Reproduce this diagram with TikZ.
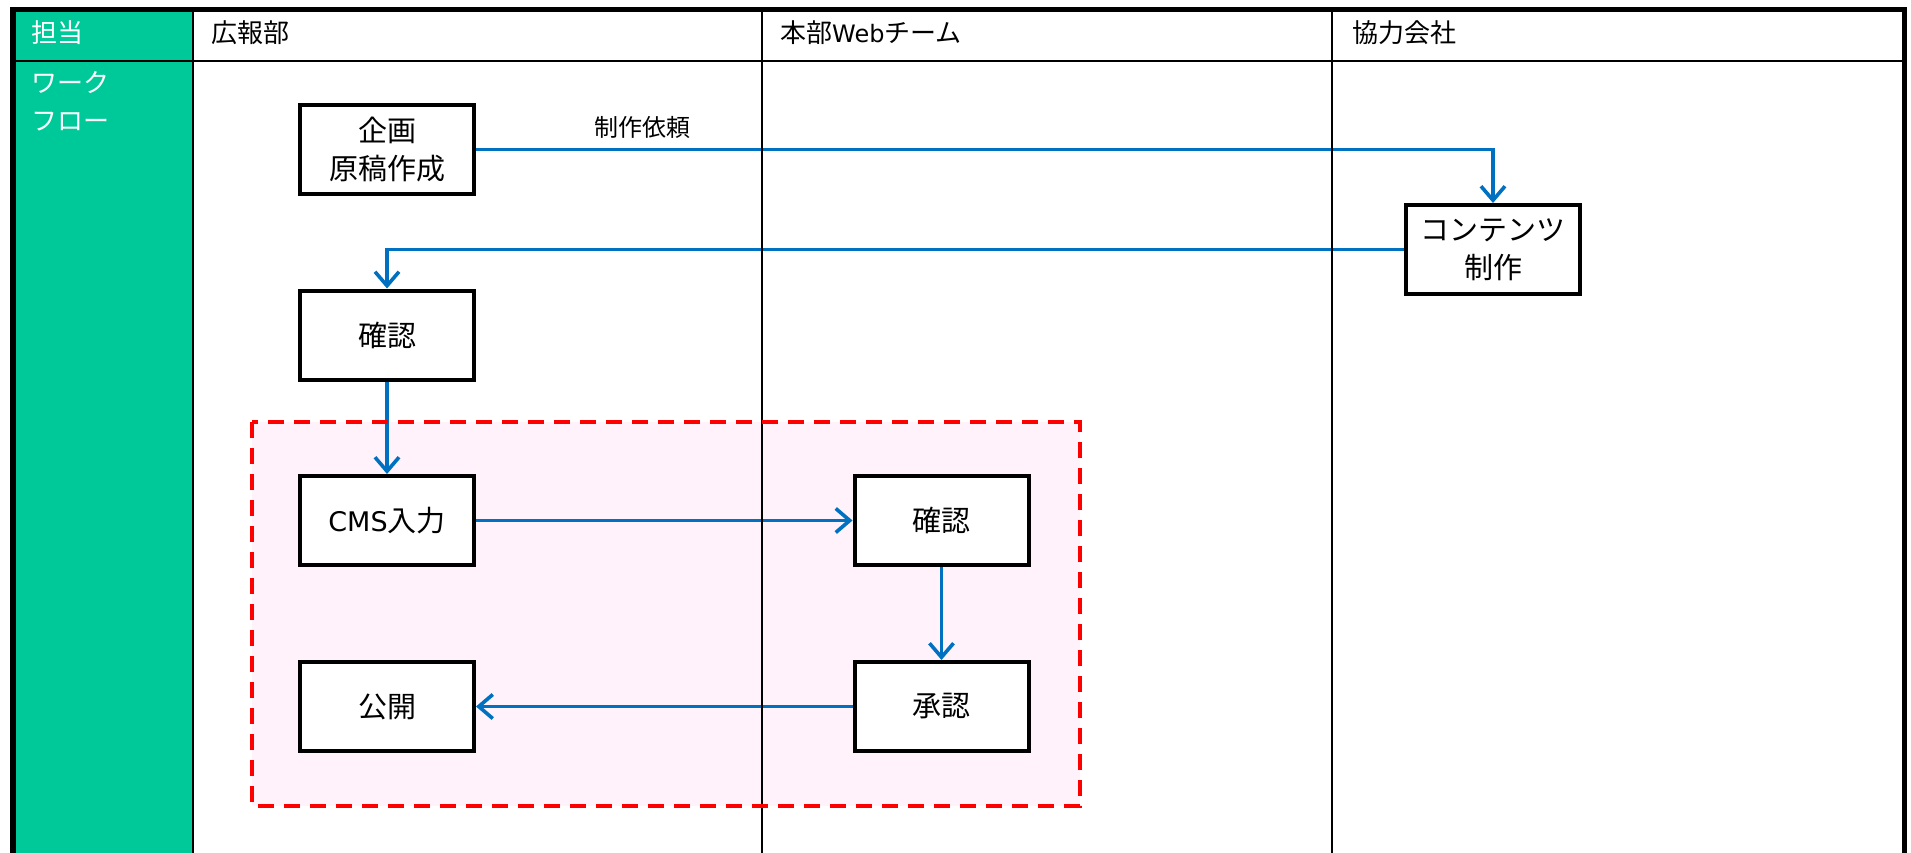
\documentclass[tikz,border=0pt]{standalone}
\usepackage{fontspec}
\setmainfont{Noto Sans CJK JP}
\newfontfamily\latfont{DejaVu Sans}
\usetikzlibrary{arrows.meta}
\definecolor{lanegreen}{RGB}{0,201,153}
\definecolor{flowblue}{RGB}{0,112,192}
\definecolor{pinkbg}{RGB}{255,242,250}
\tikzset{
  stepbox/.style={draw=black, fill=white, line width=4pt, minimum width=174pt, minimum height=89pt, inner sep=0pt, align=center, font=\fontsize{29}{38}\selectfont},
  flow/.style={draw=flowblue, line width=3.6pt, -{Straight Barb[length=14pt,width=24pt,line width=3.6pt]}},
  headtxt/.style={anchor=west, font=\fontsize{26}{32}\selectfont, inner sep=0pt},
  lane/.style={line width=2pt, black}
}
\begin{document}
\begin{tikzpicture}[x=1pt,y=-1pt]
\useasboundingbox (0,0) rectangle (1911,853);
\begin{scope}
\clip (0,0) rectangle (1911,853);
\fill[white] (0,0) rectangle (1911,853);
% green column
\fill[lanegreen] (13,9.5) rectangle (193,900);
% pink region
\fill[pinkbg] (252,422) rectangle (1080,806);
% header texts
\node[headtxt, text=white] (h0) at (31,33) {担当};
\node[headtxt] (h1) at (211,33) {広報部};
\node[headtxt] (h2) at (780,33) {本部{\latfont\fontsize{24}{30}\selectfont Web}チーム};
\node[headtxt] (h3) at (1352,33) {協力会社};
\node[headtxt, text=white] (w1) at (31,83) {ワーク};
\node[headtxt, text=white] (w2) at (31,122) {フロー};
% boxes
\node[stepbox] (kikaku) at (387,149.5) {企画\\原稿作成};
\node[stepbox] (content) at (1493,249.5) {コンテンツ\\制作};
\node[stepbox] (kakuninA) at (387,335) {確認};
\node[stepbox] (cms) at (387,520.5) {{\latfont\fontsize{27}{34}\selectfont CMS}入力};
\node[stepbox] (kakuninB) at (941.5,520.5) {確認};
\node[stepbox] (kokai) at (387,706.5) {公開};
\node[stepbox] (shonin) at (941.5,706.5) {承認};
\node[font=\fontsize{24}{30}\selectfont, inner sep=0pt] (irai) at (642,127) {制作依頼};
% connectors
\draw[flow] (kikaku.east) -| (content.north);
\draw[flow] (content.west) -| (kakuninA.north);
\draw[flow] (kakuninA.south) -- (cms.north);
\draw[flow] (cms.east) -- (kakuninB.west);
\draw[flow] (kakuninB.south) -- (shonin.north);
\draw[flow] (shonin.west) -- (kokai.east);
% lanes
\draw[lane] (193,9.5) -- (193,900);
\draw[lane] (762,9.5) -- (762,900);
\draw[lane] (1332,9.5) -- (1332,900);
\draw[lane] (13,61) -- (1904.5,61);
% dashed group border
\draw[red, line width=4pt, dash pattern=on 16pt off 10pt] (252,422) rectangle (1080,806);
% outer border
\draw[line width=5.5pt, line join=miter] (13,900) -- (13,9.5) -- (1904.5,9.5) -- (1904.5,900);
\end{scope}
\end{tikzpicture}
\end{document}
